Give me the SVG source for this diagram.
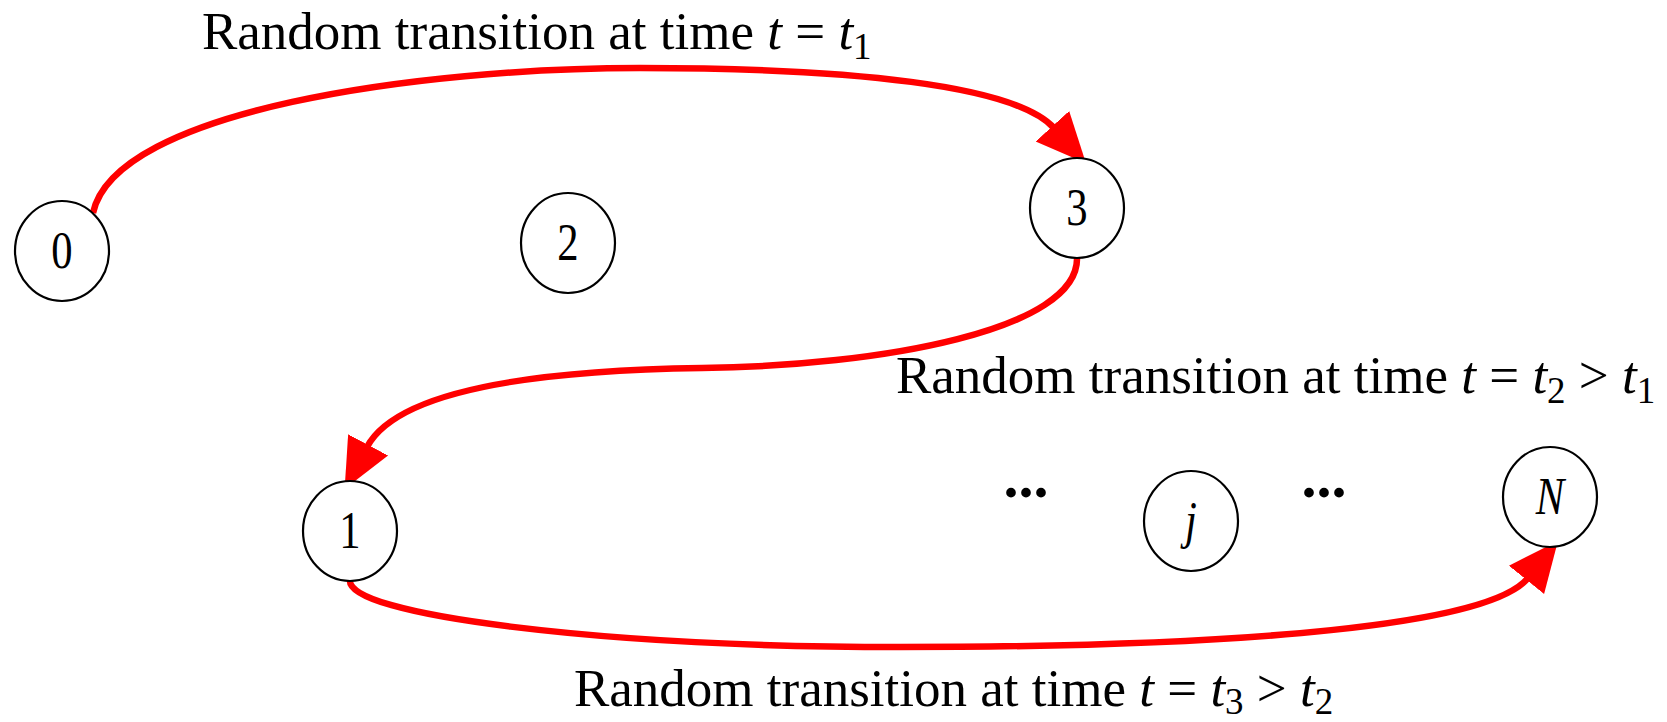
<svg xmlns="http://www.w3.org/2000/svg" width="1667" height="722" viewBox="0 0 1667 722">
<style>
.node ellipse{fill:#fff;stroke:#000;stroke-width:2.2}
.node text{font-family:"Liberation Serif","Times New Roman",serif;font-size:52px;text-anchor:middle;fill:#000}
.it{font-style:italic}
.edge{fill:none;stroke:#f00;stroke-width:6.5;marker-end:url(#ah)}
.lbl{font-family:"Liberation Serif","Times New Roman",serif;font-size:53px;fill:#000}
.sub{font-size:37px}
.dots{font-family:"Liberation Serif","Times New Roman",serif;font-size:60px;font-weight:bold;fill:#000;text-anchor:middle}
</style>
<defs>
<marker id="ah" markerUnits="userSpaceOnUse" markerWidth="50" markerHeight="50" viewBox="0 0 42 38" refX="2" refY="19" orient="auto">
<path d="M0,0 L42,19 L0,38 z" fill="#f00"/>
</marker>
</defs>
<g id="connectors">
<path id="e03" class="edge" d="M93,213 C115,110 420,68 640,68 C850,68 1015,85 1054,128"/>
<path id="e31" class="edge" d="M1077,257 C1080,330 880,366 702,368 C560,370 400,385 367,447"/>
<path id="e1N" class="edge" d="M350,580 C345,615 600,647 900,647 C1250,647 1490,625 1528,578"/>
<text class="lbl" x="202" y="49">Random transition at time <tspan class="it">t</tspan> = <tspan class="it">t</tspan><tspan class="sub" dy="10">1</tspan></text>
<text class="lbl" x="896" y="393">Random transition at time <tspan class="it">t</tspan> = <tspan class="it">t</tspan><tspan class="sub" dy="10">2</tspan><tspan dy="-10"> &gt; </tspan><tspan class="it">t</tspan><tspan class="sub" dy="10">1</tspan></text>
<text class="lbl" x="574" y="706">Random transition at time <tspan class="it">t</tspan> = <tspan class="it">t</tspan><tspan class="sub" dy="8">3</tspan><tspan dy="-8"> &gt; </tspan><tspan class="it">t</tspan><tspan class="sub" dy="8">2</tspan></text>
</g>
<g id="node0" class="node"><ellipse cx="62" cy="251" rx="47" ry="50"/><text transform="translate(62,268) scale(0.82,1)">0</text></g>
<g id="node2" class="node"><ellipse cx="568" cy="243" rx="47" ry="50"/><text transform="translate(568,260) scale(0.82,1)">2</text></g>
<g id="node3" class="node"><ellipse cx="1077" cy="208" rx="47" ry="50"/><text transform="translate(1077,225) scale(0.82,1)">3</text></g>
<g id="node1" class="node"><ellipse cx="350" cy="531" rx="47" ry="50"/><text transform="translate(350,548) scale(0.82,1)">1</text></g>
<g id="nodej" class="node"><ellipse cx="1191" cy="521" rx="47" ry="50"/><text class="it" transform="translate(1191,538) scale(0.82,1)">j</text></g>
<g id="nodeN" class="node"><ellipse cx="1550" cy="497" rx="47" ry="50"/><text class="it" transform="translate(1550,514) scale(0.82,1)">N</text></g>
<g id="ellipses">
<text class="dots" x="1026" y="497">...</text>
<text class="dots" x="1324" y="497">...</text>
</g>
</svg>
